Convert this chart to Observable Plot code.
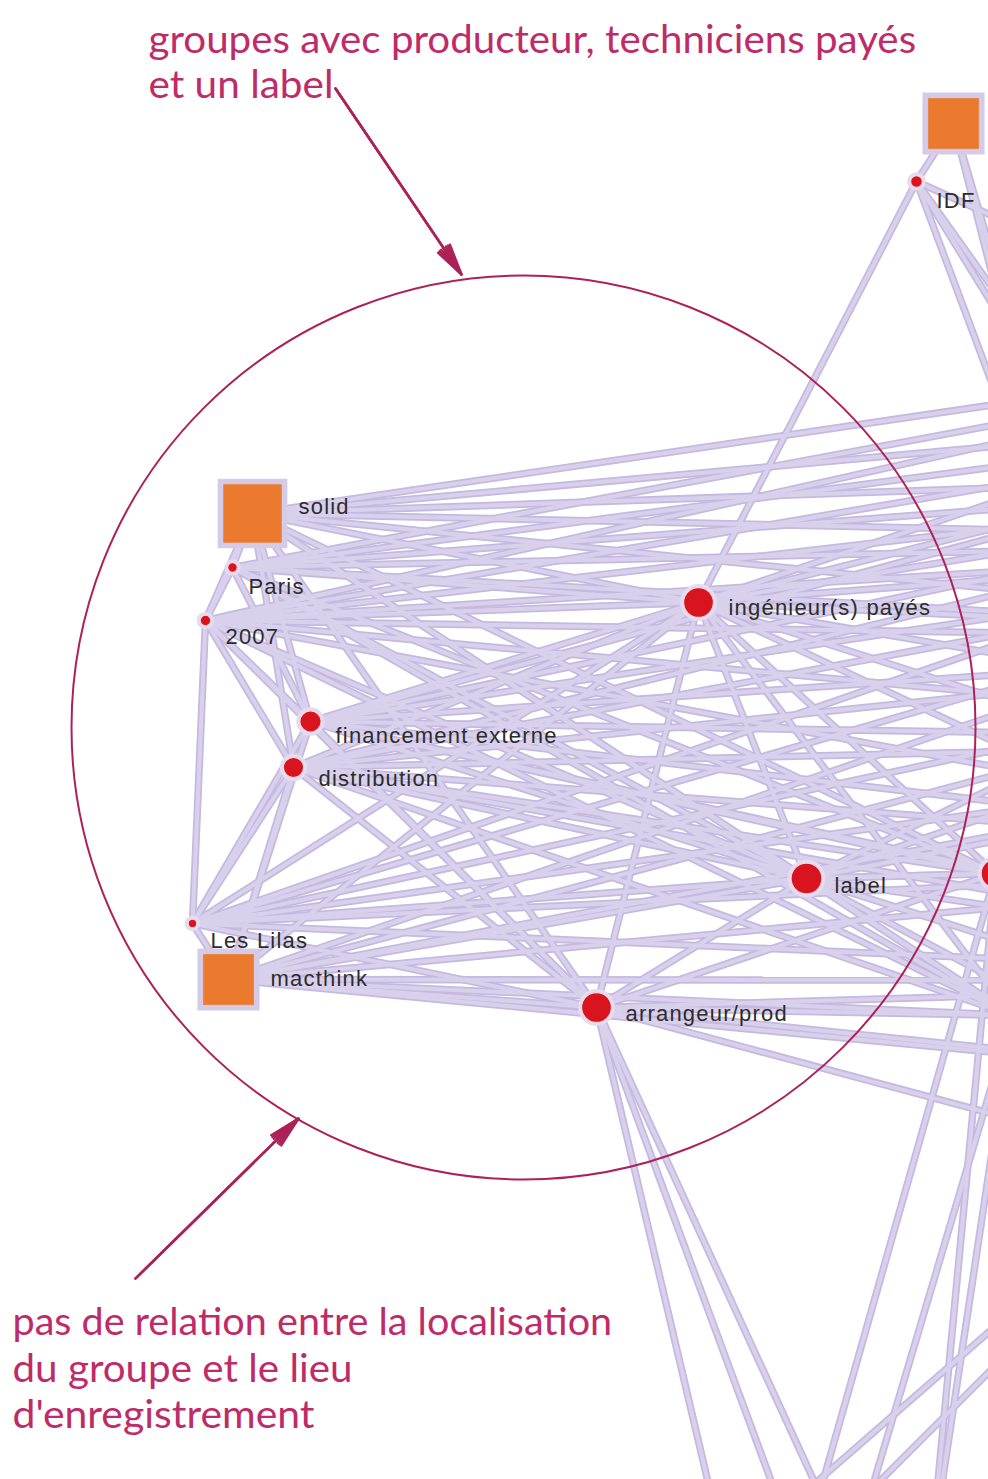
<!DOCTYPE html>
<html><head><meta charset="utf-8">
<script src="https://cdn.jsdelivr.net/npm/d3@7"></script>
<script src="https://cdn.jsdelivr.net/npm/@observablehq/plot@0.6"></script>
<style>html,body{margin:0;padding:0;background:#fff;overflow:hidden}</style>
</head><body><div id="chart"></div>
<script>
// ---- Nodes of the network (layout coordinates; off-frame ones are cropped) ----
const nodeNames = ["top-groupe","IDF","solid","Paris","2007","ingénieur(s) payés","financement externe","distribution","label","attr-droite","Les Lilas","macthink","arrangeur/prod",
  "F1","F2","F3","F4","F5","F6","F7","F8","F9","F10","U1","U2","U3","U4","U5","O9","O11","B1","B2","B3","B4"];
const nodeX = [953,916,252,232,205,698,310,293,806,995,192,228,596,
  1500,1500,1500,1500,1500,1500,1500,1500,1500,1500,1150,1250,1080,1400,1040,1012,1300,726,800,850,930];
const nodeY = [123,181,513,567,620,602,721,767,878,873,923,979,1007,
  330,400,470,540,640,740,860,980,1100,1250,560,650,620,400,420,1015,1060,1560,1560,1560,1560];
const nodeKind = ["group","attr","group","attr","attr","attr","attr","attr","attr","attr","attr","group","attr",
  "off","off","off","off","off","off","off","off","off","off","off","off","off","off","off","off","off","off","off","off","off"];
const nodeSize = [53,11,61,9,10,28,20,19,29,27,8,53,28,
  0,0,0,0,0,0,0,0,0,0,0,0,0,0,0,0,0,0,0,0,0];

// ---- Node labels ----
const labelText = ["solid","Paris","2007","ingénieur(s) payés","financement externe","distribution","label","Les Lilas","macthink","arrangeur/prod","IDF"];
const labelX = [298,248,225,728,335,318,834,210,270,625,936];
const labelY = [513,593,643,614,742,785,892,947,985,1020,207];

// ---- Edges ----
const edgeSource = [
 "solid","solid","solid","solid","Paris","2007","2007","Paris","distribution","financement externe","Les Lilas","2007",
 "solid","solid","solid","solid","solid","solid","solid","solid","solid","solid",
 "Paris","Paris","Paris","Paris","Paris","Paris","Paris","Paris","Paris",
 "2007","2007","2007","2007","2007","2007","2007","2007","2007","2007","2007",
 "financement externe","financement externe","financement externe","financement externe","financement externe","financement externe","financement externe","financement externe","financement externe","financement externe","financement externe",
 "distribution","distribution","distribution","distribution","distribution","distribution","distribution","distribution","distribution","distribution","distribution",
 "Les Lilas","Les Lilas","Les Lilas","Les Lilas","Les Lilas","Les Lilas","Les Lilas","Les Lilas","Les Lilas",
 "macthink","macthink","macthink","macthink","macthink","macthink","macthink","macthink","macthink","macthink","macthink","macthink",
 "ingénieur(s) payés","ingénieur(s) payés","ingénieur(s) payés","ingénieur(s) payés","ingénieur(s) payés","ingénieur(s) payés","ingénieur(s) payés","ingénieur(s) payés","ingénieur(s) payés","ingénieur(s) payés","ingénieur(s) payés","ingénieur(s) payés","ingénieur(s) payés",
 "label","label","label","label","label","label","label","label","label","label",
 "arrangeur/prod","arrangeur/prod","arrangeur/prod","arrangeur/prod","arrangeur/prod","arrangeur/prod","arrangeur/prod","arrangeur/prod",
 "attr-droite","attr-droite","attr-droite","attr-droite","attr-droite","attr-droite","O9","O9","O11","O11",
 "IDF","IDF","IDF","IDF","IDF","top-groupe","top-groupe"];
const edgeTarget = [
 "Paris","2007","financement externe","distribution","2007","distribution","financement externe","financement externe","Les Lilas","Les Lilas","macthink","Les Lilas",
 "F1","F2","F3","F4","F5","ingénieur(s) payés","label","arrangeur/prod","attr-droite","O9",
 "F1","F2","F3","F4","F5","ingénieur(s) payés","label","O9","attr-droite",
 "F1","F2","F3","F4","F5","F6","ingénieur(s) payés","label","arrangeur/prod","F7","O9",
 "F2","F3","F4","F5","F6","F7","ingénieur(s) payés","label","arrangeur/prod","F8","attr-droite",
 "F3","F4","F5","F6","F7","F8","ingénieur(s) payés","label","attr-droite","O9","arrangeur/prod",
 "F3","F4","F5","F6","F7","ingénieur(s) payés","label","arrangeur/prod","F8",
 "F4","F5","F6","F7","F8","ingénieur(s) payés","label","arrangeur/prod","O9","F9","financement externe","distribution",
 "F1","F2","F3","F4","F5","F6","F7","label","arrangeur/prod","attr-droite","IDF","F8","O9",
 "F4","F5","F6","F7","F8","F9","attr-droite","O9","F10","arrangeur/prod",
 "F8","F9","F10","O9","B1","B2","B3","attr-droite",
 "B2","B4","F6","F7","F8","F9","B3","B4","B1","B2",
 "top-groupe","U1","U2","U3","U4","U3","U5"];

// ---- Annotations ----
const noteText = ["groupes avec producteur, techniciens payés","et un label","pas de relation entre la localisation","du groupe et le lieu","d'enregistrement"];
const noteX = [148,148,12,12,12];
const noteY = [52,97,1334,1381,1427];
const noteWidth = [768,185,600,340,302];
const focusCircle = [{x:523, y:727}];
const arrowX1 = [335,135], arrowY1 = [88,1278], arrowX2 = [461,298], arrowY2 = [274,1118];

// ---- Build tables ----
const nodes = nodeNames.map((name,i)=>({name, x:nodeX[i], y:nodeY[i], kind:nodeKind[i], size:nodeSize[i]}));
const byName = new Map(nodes.map(d=>[d.name,d]));
const edges = edgeSource.map((s,i)=>{
  const a = byName.get(s), b = byName.get(edgeTarget[i]);
  if (!a || !b) throw new Error("missing node " + s + " / " + edgeTarget[i]);
  return {x1:a.x, y1:a.y, x2:b.x, y2:b.y};
});
const groups = nodes.filter(d=>d.kind==="group");
const attrs = nodes.filter(d=>d.kind==="attr");
const labels = labelText.map((t,i)=>({text:t, x:labelX[i], y:labelY[i]}));
const notes = noteText.map((t,i)=>({text:t, x:noteX[i], y:noteY[i]}));
const arrows = arrowX1.map((_,i)=>({x1:arrowX1[i], y1:arrowY1[i], x2:arrowX2[i], y2:arrowY2[i]}));

const accent = "#ad2159", noteColor = "#bf2b69";
const arrowMarks = [10, 18, 26].map(a => Plot.arrow(arrows, {x1:"x1", y1:"y1", x2:"x2", y2:"y2", stroke:accent, strokeWidth:2.4, headLength:20, headAngle:a}));

const chart = Plot.plot({
  width: 988, height: 1479, margin: 0,
  x: {domain:[0,988], axis:null},
  y: {domain:[0,1479], reverse:true, axis:null},
  r: {type:"linear", domain:[0,60], range:[0,32]},
  style: {background:"white", overflow:"hidden"},
  marks: [
    Plot.link(edges, {x1:"x1", y1:"y1", x2:"x2", y2:"y2", stroke:"#c5b9e0", strokeWidth:7.5, clip:true}),
    Plot.link(edges, {x1:"x1", y1:"y1", x2:"x2", y2:"y2", stroke:"#d9d1ec", strokeWidth:4, clip:true}),
    Plot.dot(focusCircle, {x:"x", y:"y", r:452, stroke:accent, strokeWidth:2, fill:"none"}),
    Plot.dot(groups, {x:"x", y:"y", r:"size", symbol:"square", fill:"#d4cbe9", stroke:"#d4cbe9", strokeWidth:12, clip:true}),
    Plot.dot(groups, {x:"x", y:"y", r:"size", symbol:"square", fill:"#ec7a2e", stroke:"#e8864a", strokeWidth:1, clip:true}),
    Plot.dot(attrs, {x:"x", y:"y", r:"size", fill:"#e3dcf2", stroke:"#e3dcf2", strokeWidth:7, clip:true}),
    Plot.dot(attrs, {x:"x", y:"y", r:"size", fill:"#d8141f", stroke:"#f6d9de", strokeWidth:1.2, clip:true}),
    Plot.text(labels, {x:"x", y:"y", text:"text", textAnchor:"start", lineAnchor:"bottom", fontSize:22, fontFamily:"Liberation Sans, Arial, sans-serif", fill:"#2c2c2c"}),
    ...arrowMarks,
    Plot.text(notes, {x:"x", y:"y", text:"text", textAnchor:"start", lineAnchor:"bottom", fontSize:38, fontFamily:"Lato, DejaVu Sans, sans-serif", fill:noteColor})
  ]
});
document.getElementById("chart").appendChild(chart);

// text fitting (style only): squeeze the annotation lines horizontally to the reference widths
const widthOf = new Map(noteText.map((t,i)=>[t, noteWidth[i]]));
const labelSet = new Set(labelText);
d3.select(chart).selectAll("text").each(function(){
  const t = this.textContent;
  if (widthOf.has(t)) {
    const w = this.getComputedTextLength();
    const sx = widthOf.get(t) / w;
    const X = +(this.getAttribute("x") || 0);
    const tr = this.getAttribute("transform") || "";
    this.setAttribute("transform", `${tr} translate(${X},0) scale(${sx},1) translate(${-X},0)`);
  } else if (labelSet.has(t)) {
    this.style.letterSpacing = "1.2px";
  }
});
</script>
</body></html>
